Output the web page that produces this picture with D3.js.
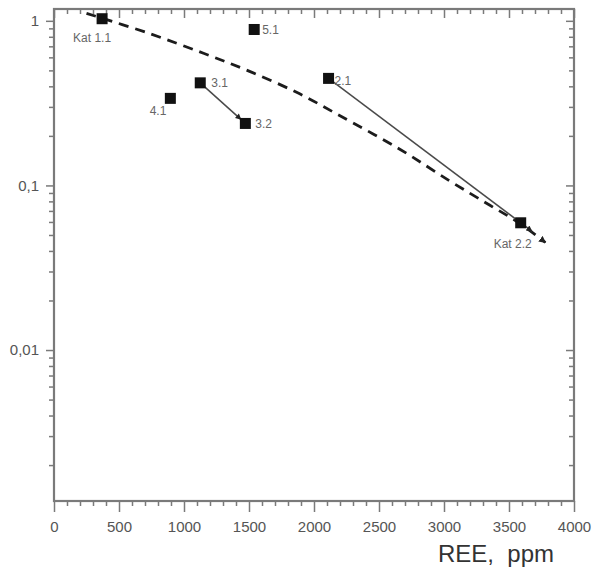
<!DOCTYPE html>
<html>
<head>
<meta charset="utf-8">
<script src="https://cdn.jsdelivr.net/npm/d3@7"></script>
<style>
  html, body { margin: 0; padding: 0; background: #fff; }
  svg { display: block; }
</style>
</head>
<body>
<svg id="chart" width="594" height="571"></svg>
<script>
// ---- data ----
const pointLabels = ["Kat 1.1", "5.1", "3.1", "4.1", "3.2", "2.1", "Kat 2.2"];
const reeValues   = [370, 1540, 1125, 895, 1472, 2112, 3590];
const ratioValues = [1.03, 0.886, 0.42, 0.338, 0.238, 0.447, 0.0593];

// arrows between analysis points (from, to)
const arrowFrom = ["3.1", "2.1"];
const arrowTo   = ["3.2", "Kat 2.2"];

// dashed trend curve
const trendRee   = [250, 730, 1150, 1500, 1890, 2200, 2660, 3040, 3350, 3580, 3780];
const trendRatio = [1.11, 0.84, 0.635, 0.495, 0.36, 0.265, 0.166, 0.107, 0.076, 0.059, 0.045];

// axis ticks
const xMajorTicks = [0, 500, 1000, 1500, 2000, 2500, 3000, 3500, 4000];
const xMinorTicks = d3.range(0, 4001, 100).filter(v => v % 500 !== 0);
const yMajorTicks = [0.01, 0.1, 1];
const yMajorLabels = ["0,01", "0,1", "1"];
const yMinorTicks = [0.002,0.003,0.004,0.005,0.006,0.007,0.008,0.009,
                     0.02,0.03,0.04,0.05,0.06,0.07,0.08,0.09,
                     0.2,0.3,0.4,0.5,0.6,0.7,0.8,0.9];
const xTitle = "REE,\u00a0 ppm";

// ---- layout (label offsets in px relative to marker centre) ----
const labelLayout = {
  "Kat 1.1": {dx: -10, dy: 23, anchor: "middle"},
  "5.1":     {dx: 8,   dy: 5,  anchor: "start"},
  "3.1":     {dx: 11,  dy: 4,  anchor: "start"},
  "4.1":     {dx: -4,  dy: 17, anchor: "end"},
  "3.2":     {dx: 10,  dy: 5,  anchor: "start"},
  "2.1":     {dx: 6,   dy: 7,  anchor: "start"},
  "Kat 2.2": {dx: -8,  dy: 25, anchor: "middle"}
};

const svg = d3.select("#chart");
const x = d3.scaleLinear().domain([0, 4000]).range([54, 574]);
const y = d3.scaleLog().domain([0.00121, 1.18]).range([501, 9]);
const [x0, x1] = x.range();
const [yb, yt] = y.range();

const FONT = "'Liberation Sans', Arial, sans-serif";
const axisColor = "#7a7a7a";
const labelColor = "#555";

function styleAxis(g, showText) {
  g.select(".domain").remove();
  g.selectAll(".tick line").attr("stroke", axisColor).attr("stroke-width", 1.5);
  g.selectAll(".tick text")
    .attr("fill", labelColor)
    .style("font-family", FONT)
    .style("font-size", "15px");
  if (!showText) g.selectAll(".tick text").remove();
}

// bottom axis (outward ticks)
svg.append("g").attr("transform", `translate(0,${yb})`)
  .call(d3.axisBottom(x).tickValues(xMajorTicks).tickSize(11).tickPadding(9.5).tickFormat(d3.format("d")))
  .call(g => styleAxis(g, true));
svg.append("g").attr("transform", `translate(0,${yb})`)
  .call(d3.axisBottom(x).tickValues(xMinorTicks).tickSize(5))
  .call(g => styleAxis(g, false));
// top axis (inward ticks)
svg.append("g").attr("transform", `translate(0,${yt})`)
  .call(d3.axisTop(x).tickValues(xMajorTicks).tickSize(-9))
  .call(g => styleAxis(g, false));
svg.append("g").attr("transform", `translate(0,${yt})`)
  .call(d3.axisTop(x).tickValues(xMinorTicks).tickSize(-5))
  .call(g => styleAxis(g, false));
// left axis (outward ticks)
svg.append("g").attr("transform", `translate(${x0},0)`)
  .call(d3.axisLeft(y).tickValues(yMajorTicks).tickSize(8).tickPadding(7)
        .tickFormat((d, i) => yMajorLabels[i]))
  .call(g => styleAxis(g, true));
svg.append("g").attr("transform", `translate(${x0},0)`)
  .call(d3.axisLeft(y).tickValues(yMinorTicks).tickSize(5))
  .call(g => styleAxis(g, false));
// right axis (inward ticks)
svg.append("g").attr("transform", `translate(${x1},0)`)
  .call(d3.axisRight(y).tickValues(yMajorTicks).tickSize(-8))
  .call(g => styleAxis(g, false));
svg.append("g").attr("transform", `translate(${x1},0)`)
  .call(d3.axisRight(y).tickValues(yMinorTicks).tickSize(-5))
  .call(g => styleAxis(g, false));

// frame
svg.append("rect")
  .attr("x", x0).attr("y", yt)
  .attr("width", x1 - x0).attr("height", yb - yt)
  .attr("fill", "none").attr("stroke", axisColor).attr("stroke-width", 2.2);

// markers
const defs = svg.append("defs");
defs.append("marker").attr("id", "arrSmall")
  .attr("viewBox", "0 0 10 10").attr("refX", 9).attr("refY", 5)
  .attr("markerUnits", "userSpaceOnUse")
  .attr("markerWidth", 7).attr("markerHeight", 6).attr("orient", "auto")
  .append("path").attr("d", "M0,0L10,5L0,10z").attr("fill", "#222");
defs.append("marker").attr("id", "arrCurve")
  .attr("viewBox", "0 0 10 10").attr("refX", 9).attr("refY", 5)
  .attr("markerUnits", "userSpaceOnUse")
  .attr("markerWidth", 7).attr("markerHeight", 7).attr("orient", "auto")
  .append("path").attr("d", "M0,0L10,5L0,10z").attr("fill", "#222");

// trend curve
const trend = trendRee.map((r, i) => [x(r), y(trendRatio[i])]);
svg.append("path")
  .datum(trend)
  .attr("d", d3.line().curve(d3.curveCatmullRom.alpha(0.5)))
  .attr("fill", "none").attr("stroke", "#1c1c1c")
  .attr("stroke-width", 2.8).attr("stroke-dasharray", "10,7")
  .attr("marker-end", "url(#arrCurve)");

// points lookup
const pts = pointLabels.map((lab, i) => ({lab, px: x(reeValues[i]), py: y(ratioValues[i])}));
const byLab = Object.fromEntries(pts.map(p => [p.lab, p]));

// arrows between points
arrowFrom.forEach((f, i) => {
  const a = byLab[f], b = byLab[arrowTo[i]];
  const dx = b.px - a.px, dy = b.py - a.py, len = Math.hypot(dx, dy);
  const ux = dx / len, uy = dy / len;
  const ext = i === 0 ? -6 : 14;
  svg.append("line")
    .attr("x1", a.px).attr("y1", a.py)
    .attr("x2", b.px + ux * ext).attr("y2", b.py + uy * ext)
    .attr("stroke", "#4a4a4a").attr("stroke-width", 1.5)
    .attr("marker-end", "url(#arrSmall)");
});

// square markers
const S = 11;
svg.append("g").selectAll("rect").data(pts).join("rect")
  .attr("x", d => d.px - S / 2).attr("y", d => d.py - S / 2)
  .attr("width", S).attr("height", S)
  .attr("fill", "#111");

// point labels
svg.append("g").selectAll("text").data(pts).join("text")
  .attr("x", d => d.px + labelLayout[d.lab].dx)
  .attr("y", d => d.py + labelLayout[d.lab].dy)
  .attr("text-anchor", d => labelLayout[d.lab].anchor)
  .attr("fill", "#666")
  .style("font-family", FONT).style("font-size", "12px")
  .text(d => d.lab);

// axis title
svg.append("text")
  .attr("x", 438).attr("y", 562)
  .attr("fill", "#333")
  .style("font-family", FONT).style("font-size", "24px")
  .text(xTitle);
</script>
</body>
</html>
